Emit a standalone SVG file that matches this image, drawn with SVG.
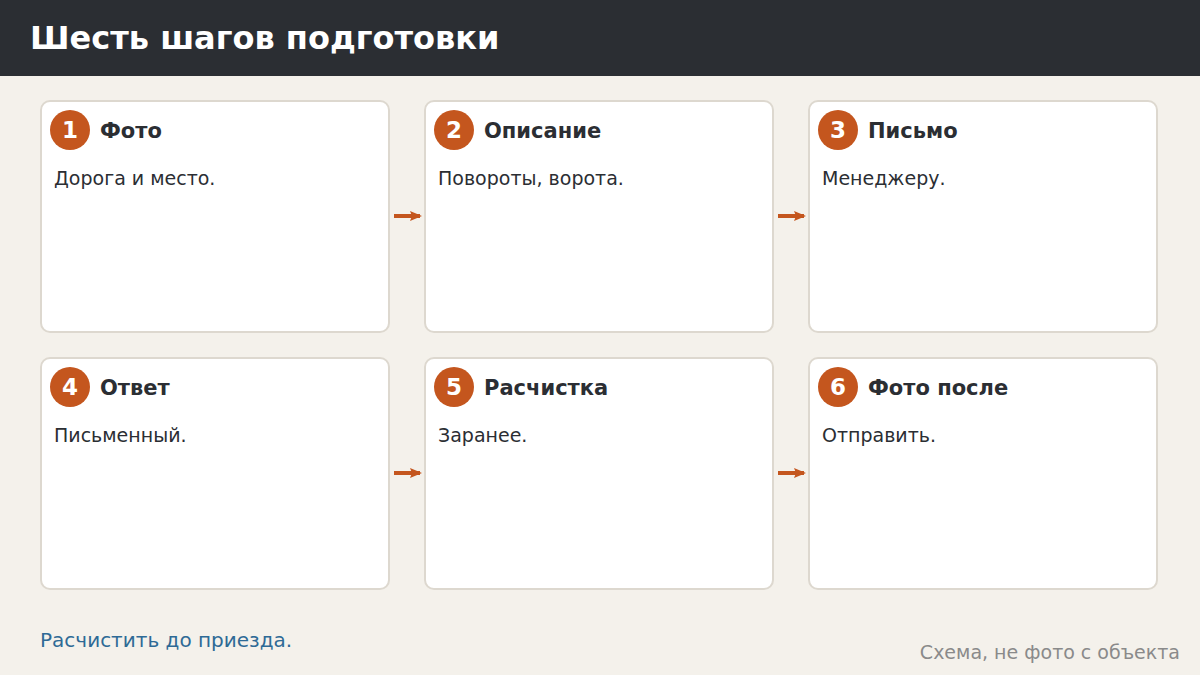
<svg xmlns="http://www.w3.org/2000/svg" width="1200" height="675" viewBox="0 0 1200 675">
<defs>
<style>
.card{fill:#ffffff;stroke:#ddd8cf;stroke-width:2}
.badge{fill:#c4561e}
.num{font-family:"DejaVu Sans",sans-serif;font-weight:bold;font-size:23px;fill:#ffffff;text-anchor:middle}
.ttl{font-family:"DejaVu Sans",sans-serif;font-weight:bold;font-size:21px;fill:#2b2e33}
.body{font-family:"DejaVu Sans",sans-serif;font-size:19px;fill:#2b2e33}
.conn{stroke:#c4561e;stroke-width:4;fill:none}
</style>
<marker id="ah" markerWidth="12" markerHeight="10" refX="10" refY="5" orient="auto" markerUnits="userSpaceOnUse">
<path d="M0,0 L12,5 L0,10 L2,5 Z" fill="#c4561e"/>
</marker>
</defs>
<rect x="0" y="0" width="1200" height="675" fill="#f4f1eb"/>
<rect x="0" y="0" width="1200" height="76" fill="#2b2e33"/>
<text x="30" y="49" font-family="DejaVu Sans, sans-serif" font-weight="bold" font-size="32" fill="#ffffff">Шесть шагов подготовки</text>

<g id="node1">
<rect class="card" x="41" y="101" width="348" height="231" rx="9"/>
<circle class="badge" cx="70" cy="130" r="20"/>
<text class="num" x="70" y="138">1</text>
<text class="ttl" x="100" y="138">Фото</text>
<text class="body" x="54" y="185">Дорога и место.</text>
</g>
<g id="node2">
<rect class="card" x="425" y="101" width="348" height="231" rx="9"/>
<circle class="badge" cx="454" cy="130" r="20"/>
<text class="num" x="454" y="138">2</text>
<text class="ttl" x="484" y="138">Описание</text>
<text class="body" x="438" y="185">Повороты, ворота.</text>
</g>
<g id="node3">
<rect class="card" x="809" y="101" width="348" height="231" rx="9"/>
<circle class="badge" cx="838" cy="130" r="20"/>
<text class="num" x="838" y="138">3</text>
<text class="ttl" x="868" y="138">Письмо</text>
<text class="body" x="822" y="185">Менеджеру.</text>
</g>
<g id="node4">
<rect class="card" x="41" y="358" width="348" height="231" rx="9"/>
<circle class="badge" cx="70" cy="387" r="20"/>
<text class="num" x="70" y="395">4</text>
<text class="ttl" x="100" y="395">Ответ</text>
<text class="body" x="54" y="442">Письменный.</text>
</g>
<g id="node5">
<rect class="card" x="425" y="358" width="348" height="231" rx="9"/>
<circle class="badge" cx="454" cy="387" r="20"/>
<text class="num" x="454" y="395">5</text>
<text class="ttl" x="484" y="395">Расчистка</text>
<text class="body" x="438" y="442">Заранее.</text>
</g>
<g id="node6">
<rect class="card" x="809" y="358" width="348" height="231" rx="9"/>
<circle class="badge" cx="838" cy="387" r="20"/>
<text class="num" x="838" y="395">6</text>
<text class="ttl" x="868" y="395">Фото после</text>
<text class="body" x="822" y="442">Отправить.</text>
</g>

<g id="connectors">
<line class="conn" x1="394" y1="216" x2="420" y2="216" marker-end="url(#ah)"/>
<line class="conn" x1="778" y1="216" x2="804" y2="216" marker-end="url(#ah)"/>
<line class="conn" x1="394" y1="473" x2="420" y2="473" marker-end="url(#ah)"/>
<line class="conn" x1="778" y1="473" x2="804" y2="473" marker-end="url(#ah)"/>
</g>

<text x="40" y="647" font-family="DejaVu Sans, sans-serif" font-size="20" fill="#2e6a96">Расчистить до приезда.</text>
<text x="1180" y="659" text-anchor="end" font-family="DejaVu Sans, sans-serif" font-size="19" fill="#8a8a8a">Схема, не фото с объекта</text>
</svg>
